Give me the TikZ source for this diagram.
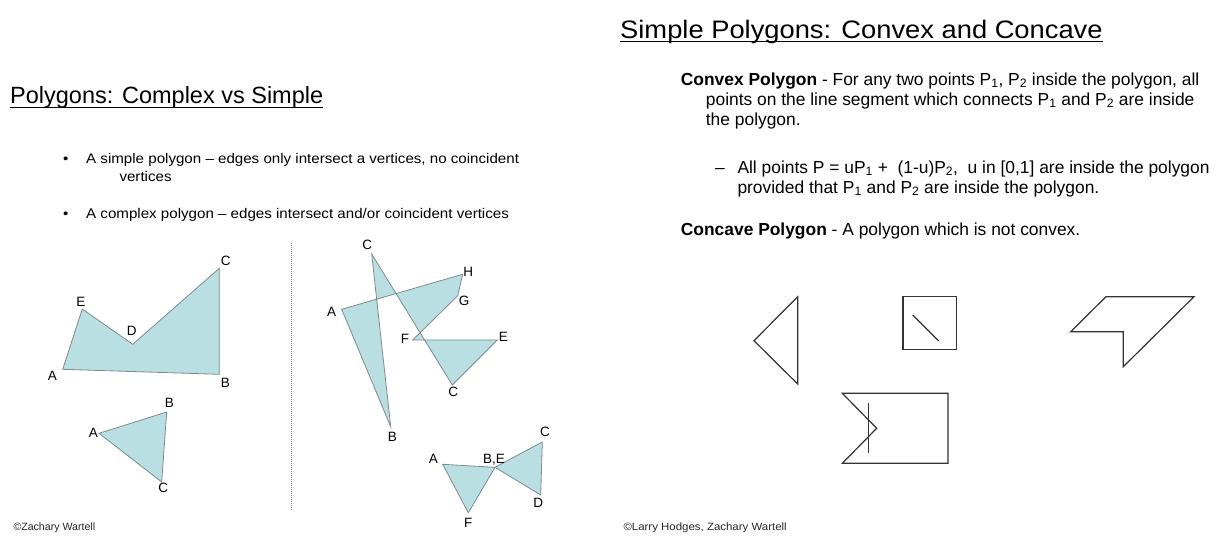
\documentclass[tikz,border=0pt]{standalone}
\usepackage{fontspec}
\setmainfont{Liberation Sans}
\newfontfamily\widesans[FakeStretch=1.08]{Liberation Sans}
\usetikzlibrary{positioning}
\definecolor{polyfill}{HTML}{BADFE3}
\definecolor{polyedge}{HTML}{7D8A8C}

\begin{document}
\begin{tikzpicture}[
    x=1pt, y=-1pt,
    title/.style={anchor=base west, inner sep=0pt, font=\fontsize{23.5}{28}\selectfont},
    body/.style={anchor=base west, inner sep=0pt, font=\widesans\fontsize{14}{17}\selectfont},
    txt/.style={anchor=base west, inner sep=0pt, font=\fontsize{17.4}{20}\selectfont},
    lbl/.style={inner sep=0pt, font=\fontsize{13.5}{16}\selectfont},
    copy/.style={anchor=base west, inner sep=0pt, text=black!85, font=\fontsize{10.6}{12}\selectfont},
    poly/.style={fill=polyfill, draw=polyedge, line width=0.8pt, even odd rule},
    outline/.style={draw=black!80, line width=1.2pt},
    uline/.style={line width=1.1pt}
  ]
    \useasboundingbox (0,0) rectangle (1232,539);

    % left slide: text
    \node[title] (ltitle) at (10,103.3) {Polygons: Complex vs Simple};
    \draw[uline] ([yshift=-4.2pt]ltitle.base west) -- ([yshift=-4.2pt]ltitle.base east);
    \node[body] (dot1) at (63,163.3) {•};
    \node[body] (simple) at (86,163.3) {A simple polygon – edges only intersect a vertices, no coincident};
    \node[body] (simple2) at (119.3,181.7) {vertices};
    \node[body] (dot2) at (63,218.3) {•};
    \node[body] (complex) at (86,218.3) {A complex polygon – edges intersect and/or coincident vertices};
    \coordinate (sepT) at (291,243);
    \coordinate (sepB) at (291,510);
    \draw[gray, line width=0.6pt, dash pattern=on 1pt off 1pt] (sepT) -- (sepB);

    % simple polygons
    \coordinate (sA) at (62.7,369.3);
    \coordinate (sE) at (82.3,309);
    \coordinate (sD) at (132.7,344.3);
    \coordinate (sC) at (219.3,268.3);
    \coordinate (sB) at (219.3,374.3);
    \draw[poly] (sA) -- (sE) -- (sD) -- (sC) -- (sB) -- cycle;
    \node[lbl] (lsA) at (52.3,375.7) {A};
    \node[lbl] (lsE) at (81,301.7) {E};
    \node[lbl] (lsD) at (131.7,330.7) {D};
    \node[lbl] (lsC) at (225.7,260.7) {C};
    \node[lbl] (lsB) at (225.3,382.7) {B};

    \coordinate (tA) at (99,433.3);
    \coordinate (tB) at (166.7,412);
    \coordinate (tC) at (161.7,482);
    \draw[poly] (tA) -- (tB) -- (tC) -- cycle;
    \node[lbl] (ltA) at (93.3,432.7) {A};
    \node[lbl] (ltB) at (169.3,402.7) {B};
    \node[lbl] (ltC) at (163.3,488.3) {C};

    % complex polygons
    \coordinate (cC) at (371.7,254);
    \coordinate (cB) at (390.7,426.7);
    \coordinate (cA) at (341.7,309.3);
    \coordinate (cH) at (462.7,274.3);
    \coordinate (cG) at (457.7,295.7);
    \coordinate (cF) at (412.7,340);
    \coordinate (cE) at (497.3,340);
    \coordinate (cC2) at (452.3,385);
    \draw[poly] (cC) -- (cB) -- (cA) -- (cH) -- (cG) -- (cF) -- (cE) -- (cC2) -- cycle;
    \node[lbl] (lcC) at (367.3,245) {C};
    \node[lbl] (lcH) at (468.3,271.7) {H};
    \node[lbl] (lcA) at (331.7,311.7) {A};
    \node[lbl] (lcG) at (464,300.7) {G};
    \node[lbl] (lcF) at (405,339.3) {F};
    \node[lbl] (lcE) at (503.3,337.3) {E};
    \node[lbl] (lcC2) at (453.3,391.7) {C};
    \node[lbl] (lcB) at (392.3,437.3) {B};

    \coordinate (bA) at (442.7,464.3);
    \coordinate (bB) at (495,467.3);
    \coordinate (bC) at (542.3,442);
    \coordinate (bD) at (540.7,495);
    \coordinate (bF) at (468.3,512.7);
    \draw[poly] (bA) -- (bB) -- (bC) -- (bD) -- (bB) -- (bF) -- cycle;
    \node[lbl] (lbA) at (433.3,459.3) {A};
    \node[lbl] (lbB) at (494,459.3) {B,E};
    \node[lbl] (lbC) at (545,432.3) {C};
    \node[lbl] (lbD) at (538.3,503.3) {D};
    \node[lbl] (lbF) at (468.3,523.3) {F};

    \node[copy] (lcopy) at (13.3,530) {©Zachary Wartell};

    % right slide: text
    \node[title, font=\widesans\fontsize{25.3}{30}\selectfont] (rtitle) at (620,38.3) {Simple Polygons: Convex and Concave};
    \draw[uline] ([yshift=-3.6pt]rtitle.base west) -- ([yshift=-3.6pt]rtitle.base east);
    \node[txt] (cvx1) at (680.7,85) {\textbf{Convex Polygon} - For any two points P\textsubscript{1}, P\textsubscript{2} inside the polygon, all};
    \node[txt] (cvx2) at (705.7,105) {points on the line segment which connects P\textsubscript{1} and P\textsubscript{2} are inside};
    \node[txt] (cvx3) at (705.7,125) {the polygon.};
    \node[txt] (dash) at (715,173.3) {–};
    \node[txt] (pts1) at (737.3,173.3) {All points P = uP\textsubscript{1} +\ \ (1-u)P\textsubscript{2},\ \ u in [0,1] are inside the polygon};
    \node[txt] (pts2) at (737.3,193.3) {provided that P\textsubscript{1} and P\textsubscript{2} are inside the polygon.};
    \node[txt] (ccv) at (680.7,235) {\textbf{Concave Polygon} - A polygon which is not convex.};

    % convex and concave shapes
    \draw[outline] (797.7,296.7) -- (754,340.7) -- (797.7,384) -- cycle;
    \draw[outline] (903,296.7) rectangle (956.7,349.3);
    \draw[outline] (912.7,315) -- (938.7,341);
    \draw[outline] (1070.7,331.7) -- (1106,296.7) -- (1194,296.7) -- (1123.3,366.7) -- (1123.3,331.7) -- cycle;
    \draw[outline] (842.3,393.3) -- (948,393.3) -- (948,463.3) -- (842.3,463.3) -- (876.7,428.3) -- cycle;
    \draw[outline] (868.3,403.3) -- (868.3,453.3);

    \node[copy, font=\widesans\fontsize{10.6}{12}\selectfont] (rcopy) at (623.3,530) {©Larry Hodges, Zachary Wartell};
  \end{tikzpicture}
\end{document}
